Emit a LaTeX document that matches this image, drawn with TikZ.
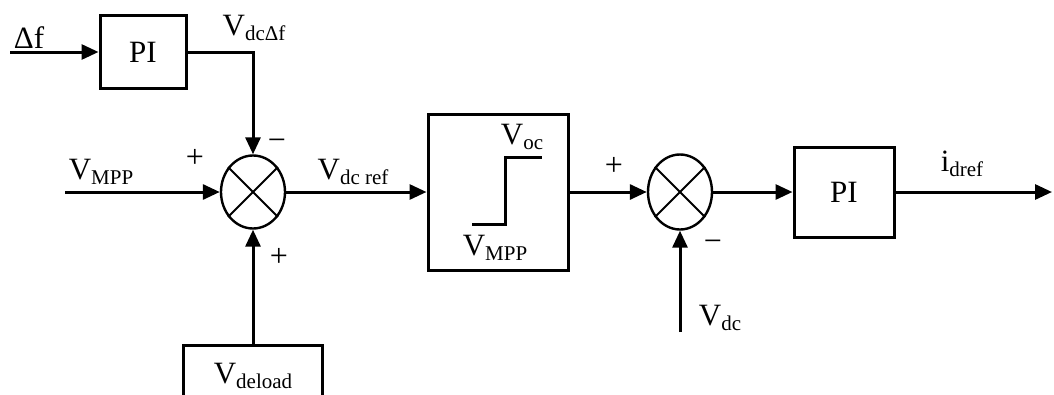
\documentclass[tikz,border=0pt]{standalone}
\usepackage{fontspec}
\setmainfont{Liberation Serif}
\usetikzlibrary{arrows.meta,shapes.geometric}
\newcommand\sbs[1]{\raisebox{-5pt}{\fontsize{21}{21}\selectfont #1}}
\begin{document}
\begin{tikzpicture}[x=1pt,y=-1pt, line width=3pt,
  >={Triangle[length=17pt,width=15pt]},
  blk/.style={draw, rectangle, inner sep=0pt, line width=3pt, font=\fontsize{31}{31}\selectfont},
  sumj/.style={draw, ellipse, minimum width=64pt, minimum height=73pt, inner sep=0pt, line width=2.4pt},
  lbl/.style={inner sep=0pt, font=\fontsize{31}{31}\selectfont},
  sgn/.style={inner sep=0pt, font=\fontsize{32}{32}\selectfont}]
\useasboundingbox (0,0) rectangle (1054,394);
\clip (0,0) rectangle (1054,394);
\fill[white] (0,0) rectangle (1054,394);

% blocks
\node[blk, minimum width=86pt, minimum height=73pt] (pi1) at (143,52) {PI};
\node[sumj] (sum1) at (253,192) {};
\node[blk, minimum width=140pt, minimum height=156pt] (lim) at (498,192) {};
\node[sumj, minimum height=75pt] (sum2) at (680,192) {};
\node[blk, minimum width=100pt, minimum height=90pt] (pi2) at (844,192) {PI};
\node[blk, minimum width=139pt, minimum height=75pt] (dl) at (253,382.5) {};

% crosses
\foreach \s in {sum1,sum2}{
  \draw[line width=1.8pt] (\s.45) -- (\s.225);
  \draw[line width=1.8pt] (\s.135) -- (\s.315);
}
% step characteristic
\draw[line width=3pt] (472,224) -- (505,224) -- (505,157) -- (542,157);

% free ends
\coordinate (df) at (10,52);
\coordinate (vmpp) at (65,192);
\coordinate (vdc) at (680,332);
\coordinate (out) at (1052,192);

% connectors
\draw[->] (df) -- (pi1.west);
\draw[->] (pi1.east) -| (sum1.north);
\draw[->] (vmpp) -- (sum1.west);
\draw[->] (dl.north) -- (sum1.south);
\draw[->] (sum1.east) -- (lim.west);
\draw[->] (lim.east) -- (sum2.west);
\draw[->] (vdc) -- (sum2.south);
\draw[->] (sum2.east) -- (pi2.west);
\draw[->] (pi2.east) -- (out);

% labels
\node[lbl] (l1) at (29,38) {Δf};
\node[lbl] (l2) at (254,28) {V\sbs{dcΔf}};
\node[lbl] (l3) at (101,172) {V\sbs{MPP}};
\node[sgn] (p1) at (195,158) {+};
\node[sgn] (m1) at (277,145) {\textminus};
\node[sgn] (p2) at (279,257) {+};
\node[lbl] (l4) at (353,172) {V\sbs{dc ref}};
\node[lbl] (l5) at (522,137) {V\sbs{oc}};
\node[lbl] (l6) at (495,248) {V\sbs{MPP}};
\node[sgn] (p3) at (614,166) {+};
\node[sgn] (m2) at (713,246) {\textminus};
\node[lbl] (l7) at (720,318) {V\sbs{dc}};
\node[lbl] (l8) at (962,164) {i\sbs{dref}};
\node[lbl] (l9) at (253,376) {V\sbs{deload}};
\end{tikzpicture}
\end{document}
